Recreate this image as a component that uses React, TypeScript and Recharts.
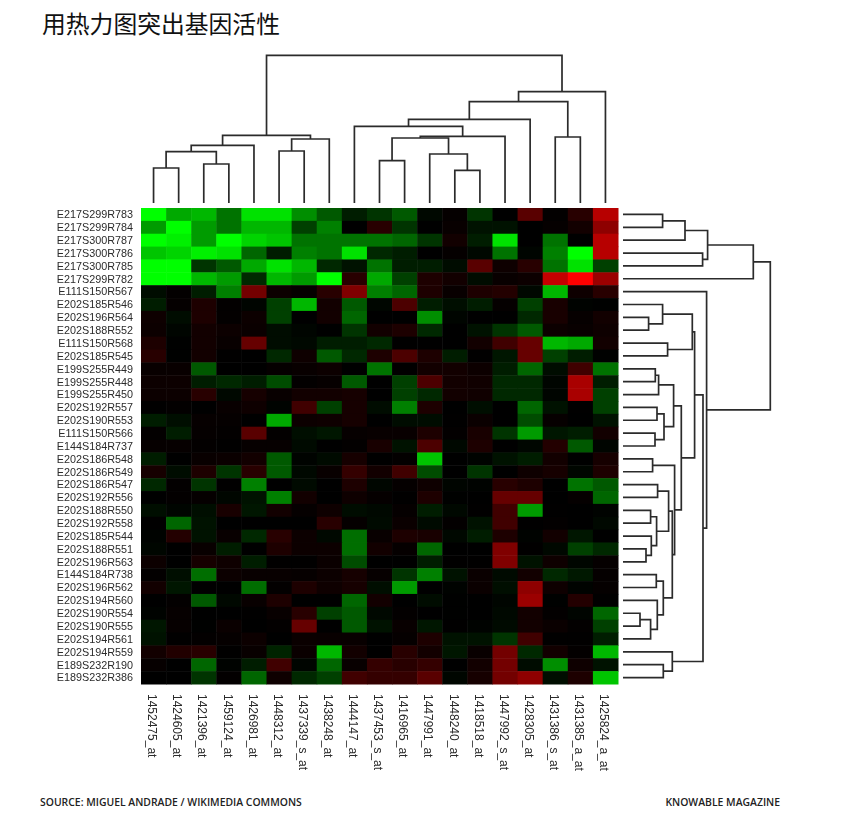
import React from "react";
import { ScatterChart, Scatter, XAxis, YAxis } from "recharts";

const title = "用热力图突出基因活性";
const sourceText = "SOURCE: MIGUEL ANDRADE / WIKIMEDIA COMMONS";
const brandText = "KNOWABLE MAGAZINE";

const columnNames = [
  "1452475_at", "1424605_at", "1421396_at", "1459124_at", "1426981_at", "1448312_at", "1437339_s_at",
  "1438248_at", "1444147_at", "1437453_s_at", "1416965_at", "1447991_at", "1448240_at", "1418518_at",
  "1447992_s_at", "1428305_at", "1431386_s_at", "1431385_a_at", "1425824_a_at",
];

const rowNames = [
  "E217S299R783", "E217S299R784", "E217S300R787", "E217S300R786", "E217S300R785", "E217S299R782",
  "E111S150R567", "E202S185R546", "E202S196R564", "E202S188R552", "E111S150R568", "E202S185R545",
  "E199S255R449", "E199S255R448", "E199S255R450", "E202S192R557", "E202S190R553", "E111S150R566",
  "E144S184R737", "E202S186R548", "E202S186R549", "E202S186R547", "E202S192R556", "E202S188R550",
  "E202S192R558", "E202S185R544", "E202S188R551", "E202S196R563", "E144S184R738", "E202S196R562",
  "E202S194R560", "E202S190R554", "E202S190R555", "E202S194R561", "E202S194R559", "E189S232R190",
  "E189S232R386",
];

// negative = green, positive = red, on a -10..10 scale
const heatRows: number[][] = [
  [-10, -7, -7.5, -5, -9, -9, -6, -4, -1.5, -2.5, -4, -0.5, 0.3, -2.5, 0, 4, 0.2, 2, 7.5],
  [-6.5, -10, -6.5, -5, -7.5, -7.5, -3, -5.5, 0, 2, -2.5, 0, 0.5, -1, -1, 0, 0.3, 1, 6],
  [-10, -9.5, -6.5, -10, -8.5, -8, -5, -5, -5, -5, -4.5, -2.5, 1, -1.5, -9, 0, -5, 0, 7.5],
  [-8, -8.5, -9.5, -9, -4.5, -1.5, -5.5, -5, -9, -2, -1.5, 0, 0.3, -0.5, -5, -0.3, -5.5, -10, 7.5],
  [-10, -10, -2.5, -4, -7, -9, -7.5, -2, -1, -5, -1.5, -1.5, -0.7, 4, 0.8, 2, -5, -9, -3],
  [-10, -10, -7.5, -6.5, -2, -7.5, -6.5, -10, 2, -7, -3, 1.5, 1, -0.7, 0.5, 0.7, 8, 10, 6.5],
  [-0.7, 0.2, -1.5, -5.5, 5, 0.7, 0.3, 2, 5.5, -5.5, -4.5, 1.5, 0.5, 1.5, 1.8, -0.5, -7.5, 0.8, 2],
  [-1.5, 0.3, 1.5, 0.2, -0.3, -3, -7.5, 1, -4, -0.4, 3.5, -1.5, -0.8, -1.5, 0.3, -3, 1.3, -0.2, -0.1],
  [0.8, -0.7, 1.5, 0.2, 0.7, -3, 0, 1, -4.5, 0, 0, -6, -0.3, 0, 0, -2, 1.3, 0.4, 1],
  [0.7, -0.3, 1, 0.7, 0.6, -0.7, -0.3, 0, -2.5, 1, 1.5, -2, 0, -1, -2.5, -4, 0.7, 0.5, 0.8],
  [1.5, -0.1, 1, 0.5, 4.5, -0.7, -0.5, -1.5, -1.5, -2, 0.1, 0.1, 0, 1, 3, 4.5, -7.5, -7, 1],
  [2, -0.1, 1, 0.1, 0, -2, 0.8, -4, -2, 1.5, 3.5, 1.5, -1.5, 0.1, -1.2, 4.5, -3, -1.5, -0.1],
  [0.5, 0.5, -4, 0, 0, 0.3, 0.5, 0.7, 0, -5, 0.1, 1, 1, 0.7, -1.5, -4.5, -0.7, 3, -5],
  [0.7, 0.7, -1.5, -2, -1.5, -3.5, 0.2, 0.4, -4, 0, -3, 3.5, 1, 0.9, -2, -2, -0.3, 7, -1.5],
  [0.7, 0.7, 2, -0.5, 1.2, 0.5, 1, 1, 1.2, 0, -3, -2, 1, 0.9, -2, -2, -0.3, 7, -3],
  [0.1, 0.2, 0, 0.5, 0.8, -0.2, 3, -3, 1.2, -0.7, -5.5, 1.5, 0, -0.8, 0, -4.5, -1, 0.1, -3],
  [-1.5, -0.8, 0.4, 0.3, 0, -7, 0.7, 0.8, 1.2, 0, -0.7, -0.7, 0.1, 0.6, 0, -3.5, 0.4, 0, -1],
  [0.2, -1.5, 0.3, 0.2, 4, 0.2, -0.8, -1.2, 0.4, 0.5, 0.5, 1.5, 0.2, 1.3, -2.5, -6.5, -1.2, -1.5, 1],
  [0.4, 0.4, 0.2, 0.1, 0.4, 0.4, -0.6, 0, 0.2, 1.3, -1, 3.5, -0.5, 1.5, 0, -0.4, 1.8, -4, -0.3],
  [-1.5, 0, 0.5, 0.6, 1, -4, -0.2, -0.6, 1.2, 0, 0.2, -8, 0, -0.2, -1, -1.5, 1, 0, 1.2],
  [1.2, -0.7, 1.5, -2.5, 2, -4, -0.5, 0.5, 2.5, 1, 3, -3.5, 0, -2.5, 0, 0.8, 1.2, -0.4, 1.5],
  [-2, 0.2, -2.5, 0.1, -5.5, 0, -0.6, 0, 1.5, -0.4, 0.3, 0.8, -0.3, -0.2, 2, 1.5, 0, -5, -4],
  [0, 0.2, 0.3, -0.4, -1, -5.5, 1, 0, 0.8, 0.3, 0.1, 1.5, -0.1, 0, 4.5, 4.5, 0, 0.3, -4.5],
  [-0.8, -0.3, -0.8, 1.3, -1.2, 1, 0.3, 0.8, -0.7, -0.5, 0.3, -1.5, -0.5, 0.1, 3, -6.5, 0.1, 0, -0.2],
  [0.1, -4.5, -1, 0, 0, 0, 0, 2, 0.3, -0.6, 0.6, -0.6, 0.2, -1, 3, 0.1, 0.2, 0, -0.5],
  [-0.2, 1.8, -1, 0.5, -2, 2, 0.7, -0.5, -4.8, 0.5, 1.5, 1.3, -0.5, -1.5, 1.5, -0.2, 1, -1.2, 0],
  [-0.4, 0, 0.5, -1.5, 0, 1.5, 0.7, 0.7, -4.8, 1, 0.3, -4.5, 0, 0, 5.5, 0.1, -0.5, -3, -2],
  [0.7, 0, 1.2, 0.8, -1.5, 0.1, 0.1, 0.6, -3.5, 0, 0, -1.5, 0.1, 0.1, 5.5, -1, 0.8, -0.4, 0.3],
  [0.2, -0.8, -4.8, 0.7, 0.5, 0.5, 0.4, 0.7, 1.2, 0.4, -2.5, -5.5, -1, 0.6, -0.6, 1, -2, -1.3, 0.3],
  [1, -1.2, 0.1, 0, -4.8, 0.2, 1.5, 0.8, 1.2, -0.8, -6.5, 0, -0.2, 0.6, -0.8, 6, 0.8, -0.2, 0.3],
  [0, 0.2, -4, -0.5, 0.5, 1.5, 0, 0, -4.5, 1, 0, -0.7, -0.1, 0, -0.3, 6.5, -0.1, 1.8, 0.1],
  [-0.2, 0.4, 0, 0, 0.1, 0.5, 2, -3, -4, -0.5, 0.2, 0, -0.1, 0, -0.5, 1, 0.2, -0.3, -4.5],
  [-1.2, 0.4, -0.1, 0.6, 0, 0.2, 4.5, 0, -4, -1, 0.5, -1.2, 0.1, -0.2, -0.6, 1, 0.6, 0.2, -3],
  [-1, 0.1, 0.2, 0.3, 0.7, 0, 0.6, 0.5, 0.5, 0, 0.3, 1.5, -1, -1, -2.5, 3, 0.1, 0.1, -1.5],
  [1, 1.7, 2, 0.1, 0.5, -1.8, 0.6, -7.5, 1, 0, 2, 1, -1.2, 0.5, 5, -2, 1, 0.2, -7.5],
  [0.4, 0, -4.5, -0.2, -1.5, 3, -0.3, -4.5, 0.5, 2.5, 2, 2.5, 0, 1, 5, -0.7, -6, 0.8, -1],
  [0, 0, -2.5, 0.2, -4.5, 0.8, -2, -3, 3, 2.5, 2.5, 4, -0.4, 1.2, 5, 6, -0.8, 1.5, -8],
];

// Each merge: [child, child, height]. A child >= 0 is a leaf, a child < 0 is merge number -(child) - 1.
type Merge = [number, number, number];

const columnMerges: Merge[] = [
  [0, 1, 35], [2, 3, 39], [-1, -2, 51.3], [-3, 4, 57.7], [5, 6, 52], [-5, 7, 64], [-4, -6, 67.7],
  [9, 10, 42.3], [12, 13, 32.7], [11, -9, 49], [-8, -10, 65], [-11, 14, 66.7], [8, -12, 76.7],
  [-13, 15, 83.7], [16, 17, 66], [-14, -15, 101.3], [-16, 18, 111.3], [-7, -17, 147.7],
];

const rowMerges: Merge[] = [
  [0, 1, 39.6], [-1, 2, 62], [3, 4, 79.6], [-2, -3, 84.6], [-4, 5, 130.3],
  [8, 9, 25.6], [7, -6, 39.6], [10, 11, 44.6], [-7, -8, 69.3],
  [12, 13, 32.3], [-10, 14, 35.6], [15, 16, 34], [17, 18, 32], [-12, -13, 41], [-11, -14, 50.6],
  [19, 20, 29.6], [21, 22, 34.6], [23, 24, 27.6], [26, 27, 23], [25, -19, 28.3], [-18, -20, 33.6],
  [-17, -21, 45.6], [28, 29, 33.3], [31, 32, 17], [-24, 33, 27.6], [30, -25, 34.3], [-23, -26, 40.3],
  [-22, -27, 49.3], [-16, -28, 51.6], [-15, -29, 58.3], [-9, -30, 71.6],
  [35, 36, 40.3], [34, -32, 49.3], [-31, -33, 80], [6, -34, 83.6], [-5, -35, 147.3],
];

type Pt = { pos: number; h: number };

// Turn merges into U-shaped polylines in (leaf position, height) data space.
function linkPaths(merges: Merge[]): Pt[][] {
  const nodes: Pt[] = [];
  const read = (c: number): Pt => (c >= 0 ? { pos: c + 0.5, h: 0 } : nodes[-c - 1]);
  return merges.map(([a, b, h]) => {
    const l = read(a);
    const r = read(b);
    nodes.push({ pos: (l.pos + r.pos) / 2, h });
    return [
      { pos: l.pos, h: l.h },
      { pos: l.pos, h },
      { pos: r.pos, h },
      { pos: r.pos, h: r.h },
    ];
  });
}

const cells = heatRows.flatMap((row, r) =>
  row.map((v, c) => ({ col: c + 0.5, row: r + 0.5, v }))
);

const colTicks = columnNames.map((_, i) => i + 0.5);
const rowTicks = rowNames.map((_, i) => i + 0.5);

const HEAT = { left: 141, top: 208, right: 618, bottom: 684 };
const W = 849;
const H = 825;
const cellW = (HEAT.right - HEAT.left) / columnNames.length;
const cellH = (HEAT.bottom - HEAT.top) / rowNames.length;
const LINK = "#2b2b2b";
const LABEL = "#2b2b2b";
const SANS = '"Liberation Sans", Arial, sans-serif';
const SOFT = "blur(0.45px)";

function heatColor(v: number) {
  const k = Math.round(Math.pow(Math.min(10, Math.abs(v)) / 10, 1.15) * 255);
  return v >= 0 ? `rgb(${k},0,0)` : `rgb(0,${k},0)`;
}

function HeatCell(props: any) {
  const { cx, cy, payload } = props;
  return (
    <rect
      x={cx - cellW / 2}
      y={cy - cellH / 2}
      width={cellW + 0.5}
      height={cellH + 0.5}
      fill={heatColor(payload.v)}
    />
  );
}

function ColumnTick(props: any) {
  const { x, y, index } = props;
  return (
    <text
      transform={`translate(${x - 5.3},${y + 2}) rotate(90)`}
      fontFamily={SANS}
      fontSize={12}
      fill={LABEL}
    >
      {columnNames[index]}
    </text>
  );
}

const NoDot = () => <g />;
const abs: React.CSSProperties = { position: "absolute" };
const footer: React.CSSProperties = {
  ...abs,
  top: 795,
  fontFamily: '"Open Sans", sans-serif',
  fontSize: 10.4,
  fontWeight: 600,
  lineHeight: "14px",
  color: "#222",
  whiteSpace: "nowrap",
};

export default function App() {
  const topLinks = linkPaths(columnMerges);
  const sideLinks = linkPaths(rowMerges);
  return (
    <div style={{ ...abs, left: 0, top: 0, width: W, height: H, background: "#fff", overflow: "hidden" }}>
      <div style={{ ...abs, left: 42, top: 6, fontFamily: '"Noto Sans CJK SC"', fontSize: 23.8, lineHeight: "34px", color: "#111", whiteSpace: "nowrap" }}>
        {title}
      </div>
      <div style={{ ...footer, left: 40 }}>{sourceText}</div>
      <div style={{ ...footer, right: 69 }}>{brandText}</div>

      {/* heat map with its row and column labels */}
      <div style={{ ...abs, left: 0, top: 0, filter: SOFT }}>
        <ScatterChart
          width={W}
          height={H}
          margin={{ left: HEAT.left - 110, top: HEAT.top, right: W - HEAT.right, bottom: H - HEAT.bottom - 100 }}
        >
          <XAxis
            type="number"
            dataKey="col"
            domain={[0, columnNames.length]}
            ticks={colTicks}
            interval={0}
            height={100}
            axisLine={false}
            tickLine={false}
            tick={<ColumnTick />}
          />
          <YAxis
            type="number"
            dataKey="row"
            domain={[0, rowNames.length]}
            reversed
            ticks={rowTicks}
            interval={0}
            width={110}
            axisLine={false}
            tickLine={false}
            tickSize={0}
            tickMargin={8}
            tickFormatter={(_: any, i: number) => rowNames[i]}
            tick={{ fontFamily: SANS, fontSize: 10.8, fill: LABEL }}
          />
          <Scatter data={cells} isAnimationActive={false} shape={<HeatCell />} />
        </ScatterChart>
      </div>

      {/* column dendrogram */}
      <div style={{ ...abs, left: HEAT.left, top: 40, filter: SOFT }}>
        <ScatterChart width={HEAT.right - HEAT.left} height={163} margin={{ left: 0, right: 0, top: 0, bottom: 0 }}>
          <XAxis type="number" dataKey="pos" domain={[0, columnNames.length]} hide />
          <YAxis type="number" dataKey="h" domain={[0, 163]} hide />
          {topLinks.map((pts, i) => (
            <Scatter
              key={i}
              data={pts}
              isAnimationActive={false}
              shape={<NoDot />}
              line={{ stroke: LINK, strokeWidth: 1.7 }}
            />
          ))}
        </ScatterChart>
      </div>

      {/* row dendrogram */}
      <div style={{ ...abs, left: 622.7, top: HEAT.top, filter: SOFT }}>
        <ScatterChart width={167.3} height={HEAT.bottom - HEAT.top} margin={{ left: 0, right: 0, top: 0, bottom: 0 }}>
          <XAxis type="number" dataKey="h" domain={[0, 167.3]} hide />
          <YAxis type="number" dataKey="pos" domain={[0, rowNames.length]} reversed hide />
          {sideLinks.map((pts, i) => (
            <Scatter
              key={i}
              data={pts}
              isAnimationActive={false}
              shape={<NoDot />}
              line={{ stroke: LINK, strokeWidth: 1.7 }}
            />
          ))}
        </ScatterChart>
      </div>
    </div>
  );
}
